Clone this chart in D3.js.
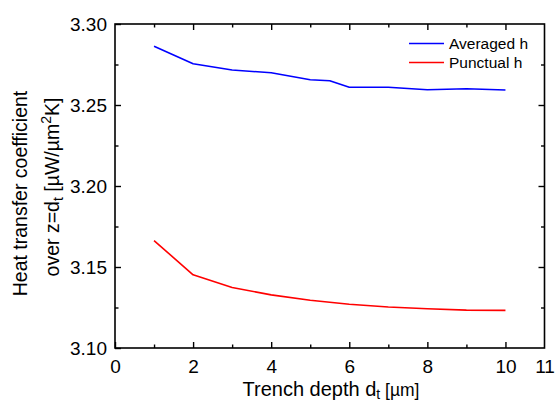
<!DOCTYPE html>
<html>
<head>
<meta charset="utf-8">
<script src="https://cdn.jsdelivr.net/npm/d3@7/dist/d3.min.js"></script>
<style>
  html, body { margin: 0; padding: 0; background: #fff; }
  svg { display: block; font-family: "Liberation Sans", Arial, sans-serif; }
</style>
</head>
<body>
<svg id="chart" width="555" height="403"></svg>
<script>
// Trench depth (µm)
const depth = [1, 2, 3, 4, 5, 5.5, 6, 7, 8, 9, 10];
// Averaged heat transfer coefficient over z = d_t (µW/µm²K)
const averagedH = [3.2862, 3.2755, 3.2716, 3.2699, 3.2656, 3.2650, 3.2610, 3.2610, 3.2594, 3.2600, 3.2593];
const depthPunctual = [1, 2, 3, 4, 5, 6, 7, 8, 9, 10];
// Punctual heat transfer coefficient over z = d_t (µW/µm²K)
const punctualH = [3.1663, 3.1452, 3.1374, 3.1328, 3.1295, 3.1270, 3.1253, 3.1242, 3.1234, 3.1232];

const xTicks = [0, 1, 2, 3, 4, 5, 6, 7, 8, 9, 10, 11];
const xLabels = [0, 2, 4, 6, 8, 10, 11];
const yTicks = [3.10, 3.125, 3.15, 3.175, 3.20, 3.225, 3.25, 3.275, 3.30];
const yLabels = [3.10, 3.15, 3.20, 3.25, 3.30];

const seriesNames = ["Averaged h", "Punctual h"];
const seriesColors = ["#0000ff", "#ff0000"];

const W = 555, H = 403;
const m = { left: 115, right: 10.5, top: 24, bottom: 55 };
const svg = d3.select("#chart");

const x = d3.scaleLinear().domain([0, 11]).range([m.left, W - m.right]);
const y = d3.scaleLinear().domain([3.10, 3.30]).range([H - m.bottom, m.top]);

const isMajorX = v => v % 2 === 0;
const isMajorY = v => Math.abs(Math.round(v * 100) % 5) === 0 && Math.abs(v * 100 - Math.round(v * 100)) < 1e-6;

// Series lines
const line = d3.line().x(d => x(d[0])).y(d => y(d[1]));
const series = [
  d3.zip(depth, averagedH),
  d3.zip(depthPunctual, punctualH)
];
series.forEach((s, i) => {
  svg.append("path")
    .datum(s)
    .attr("d", line)
    .attr("fill", "none")
    .attr("stroke", seriesColors[i])
    .attr("stroke-width", 1.6)
    .attr("stroke-linejoin", "round");
});

// Axes with inward ticks on all four sides
function styleAxis(g) {
  g.select(".domain").remove();
  g.selectAll(".tick line").attr("stroke", "#000").attr("stroke-width", 1.4);
}

const xBottom = svg.append("g")
  .attr("transform", `translate(0,${H - m.bottom})`)
  .call(d3.axisBottom(x).tickValues(xTicks).tickSize(0).tickPadding(12)
    .tickFormat(d => xLabels.includes(d) ? d3.format("d")(d) : ""));
styleAxis(xBottom);
xBottom.selectAll(".tick line").attr("y2", d => isMajorX(d) ? -6 : -3.5);
xBottom.selectAll(".tick").filter(d => d === 11).select("line").remove();
xBottom.selectAll(".tick text").attr("font-size", 19).attr("fill", "#000")
  .attr("font-family", "Liberation Sans, Arial, sans-serif");

const xTop = svg.append("g")
  .attr("transform", `translate(0,${m.top})`)
  .call(d3.axisTop(x).tickValues(xTicks.filter(v => v > 0 && v < 11)).tickSize(0).tickFormat(""));
styleAxis(xTop);
xTop.selectAll(".tick line").attr("y2", d => isMajorX(d) ? 6 : 3.5);

const yLeft = svg.append("g")
  .attr("transform", `translate(${m.left},0)`)
  .call(d3.axisLeft(y).tickValues(yTicks).tickSize(0).tickPadding(8)
    .tickFormat(d => yLabels.some(v => Math.abs(v - d) < 1e-9) ? d3.format(".2f")(d) : ""));
styleAxis(yLeft);
yLeft.selectAll(".tick line").attr("x2", d => isMajorY(d) ? 6 : 3.5);
yLeft.selectAll(".tick text").attr("font-size", 19).attr("fill", "#000")
  .attr("font-family", "Liberation Sans, Arial, sans-serif");

const yRight = svg.append("g")
  .attr("transform", `translate(${W - m.right},0)`)
  .call(d3.axisRight(y).tickValues(yTicks.filter(v => v > 3.10 && v < 3.30)).tickSize(0).tickFormat(""));
styleAxis(yRight);
yRight.selectAll(".tick line").attr("x2", d => isMajorY(d) ? -6 : -3.5);

// Plot frame
svg.append("rect")
  .attr("x", m.left).attr("y", m.top)
  .attr("width", W - m.left - m.right).attr("height", H - m.top - m.bottom)
  .attr("fill", "none").attr("stroke", "#000").attr("stroke-width", 1.6);

// Legend
const legend = svg.append("g");
seriesNames.forEach((name, i) => {
  const ly = 43.5 + i * 19;
  legend.append("line")
    .attr("x1", 409).attr("x2", 444).attr("y1", ly).attr("y2", ly)
    .attr("stroke", seriesColors[i]).attr("stroke-width", 1.6);
  legend.append("text")
    .attr("x", 449).attr("y", ly + 5.5)
    .attr("font-size", 15.5).attr("fill", "#000")
    .text(name);
});

// X axis title
const xt = svg.append("text")
  .attr("x", 331).attr("y", 396)
  .attr("text-anchor", "middle")
  .attr("font-size", 20).attr("fill", "#000");
xt.append("tspan").text("Trench depth d");
xt.append("tspan").attr("font-size", 14).attr("dy", 3).text("t");
xt.append("tspan").attr("font-size", 17.5).attr("dy", -3).text(" [µm]");

// Y axis title (two lines)
const yt = svg.append("g");
yt.append("text")
  .attr("transform", "translate(27,193.5) rotate(-90)")
  .attr("text-anchor", "middle")
  .attr("font-size", 19.5).attr("fill", "#000")
  .text("Heat transfer coefficient");
const y2 = yt.append("text")
  .attr("transform", "translate(59,187) rotate(-90)")
  .attr("text-anchor", "middle")
  .attr("font-size", 19.5).attr("fill", "#000");
y2.append("tspan").text("over z=d");
y2.append("tspan").attr("font-size", 14).attr("dy", 4).text("t");
y2.append("tspan").attr("dy", -4).text(" [µW/µm");
y2.append("tspan").attr("font-size", 14).attr("dy", -8).text("2");
y2.append("tspan").attr("dy", 8).text("K]");
</script>
</body>
</html>
